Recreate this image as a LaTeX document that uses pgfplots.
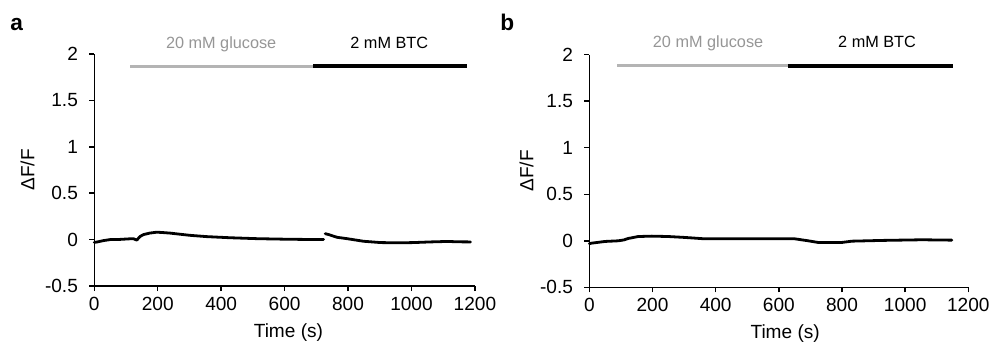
\documentclass[border=0pt]{standalone}
\usepackage{fontspec}
\setmainfont{Liberation Sans}
\usepackage{pgfplots}
\pgfplotsset{compat=1.18}
\definecolor{bargray}{RGB}{180,180,180}
\definecolor{txtgray}{RGB}{150,150,150}
\pgfplotsset{
  panel/.style={
    scale only axis,
    anchor=south west,
    axis x line*=bottom,
    axis y line*=left,
    xmin=0, xmax=1200,
    ymin=-0.5, ymax=2,
    xtick={0,200,400,600,800,1000,1200},
    xticklabels={0,200,400,600,800,1000,1200},
    ytick={-0.5,0,0.5,1,1.5,2},
    yticklabels={-0.5,0,0.5,1,1.5,2},
    tick align=outside,
    major tick length=3.75pt,
    axis line style={line width=1.1pt, black},
    every tick/.style={line width=1.1pt, black},
    tick label style={font=\fontsize{14.3}{16}\selectfont},
    xticklabel style={yshift=-1pt},
    yticklabel style={xshift=-5pt},
    clip=false,
  },
  trace/.style={black, line width=2.1pt, line join=round, line cap=round, mark=none},
  glu/.style={bargray, line width=2.5pt, mark=none},
  btc/.style={black, line width=3pt, mark=none},
}
\begin{document}
\begin{tikzpicture}
\path[use as bounding box] (0,0) rectangle (746.25pt,-258.75pt);
% panel a
\node[anchor=base west, inner sep=0pt, font=\fontsize{17}{19}\selectfont\bfseries] at (7.5pt,-23.25pt) {a};
\begin{axis}[panel, at={(70.7pt,-214.5pt)}, width=285.5pt, height=174pt]
  \addplot[trace] coordinates {(0,-0.03) (10,-0.025) (30,-0.01) (50,0) (80,0.002) (110,0.008) (123,0.01) (134,-0.005) (145,0.035) (155,0.054) (175,0.07) (197,0.08) (220,0.075) (239,0.07) (270,0.058) (302,0.046) (355,0.032) (428,0.02) (513,0.01) (607,0.004) (660,0.002) (723,0.002)};
  \addplot[trace] coordinates {(728,0.064) (739,0.054) (765,0.025) (797,0.01) (849,-0.018) (902,-0.032) (960,-0.035) (1007,-0.032) (1060,-0.025) (1113,-0.02) (1150,-0.024) (1186,-0.025)};
  \addplot[glu] coordinates {(113,1.866) (691,1.866)};
  \addplot[btc] coordinates {(691,1.866) (1176,1.866)};
  \node[anchor=base, text=txtgray, font=\fontsize{12.2}{14}\selectfont] at (axis cs:400,2.06) {20 mM glucose};
  \node[anchor=base, text=black, font=\fontsize{12.2}{14}\selectfont] at (axis cs:930,2.06) {2 mM BTC};
  \node[anchor=base, font=\fontsize{14.3}{16}\selectfont, yshift=-38.5pt] at (axis cs:612,-0.5) {Time (s)};
  \node[xshift=-50pt, rotate=90, anchor=center, font=\fontsize{14.3}{16}\selectfont] at (axis description cs:0,0.5) {ΔF/F};
\end{axis}
% panel b
\node[anchor=base west, inner sep=0pt, font=\fontsize{17}{19}\selectfont\bfseries] at (375pt,-23.25pt) {b};
\begin{axis}[panel, at={(442pt,-215.5pt)}, width=284.25pt, height=174.5pt]
  \addplot[trace] coordinates {(0,-0.03) (8,-0.025) (50,-0.007) (92,0) (110,0.01) (123,0.025) (155,0.046) (198,0.05) (250,0.046) (303,0.036) (366,0.021) (461,0.021) (609,0.021) (651,0.021) (693,0) (725,-0.018) (799,-0.018) (831,-0.004) (926,0.004) (1053,0.011) (1148,0.007)};
  \addplot[glu] coordinates {(88,1.88) (630,1.88)};
  \addplot[btc] coordinates {(630,1.88) (1151,1.88)};
  \node[anchor=base, text=txtgray, font=\fontsize{12.2}{14}\selectfont] at (axis cs:376,2.08) {20 mM glucose};
  \node[anchor=base, text=black, font=\fontsize{12.2}{14}\selectfont] at (axis cs:911,2.08) {2 mM BTC};
  \node[anchor=base, font=\fontsize{14.3}{16}\selectfont, yshift=-38.5pt] at (axis cs:620,-0.5) {Time (s)};
  \node[xshift=-47pt, rotate=90, anchor=center, font=\fontsize{14.3}{16}\selectfont] at (axis description cs:0,0.5) {ΔF/F};
\end{axis}
\end{tikzpicture}
\end{document}
